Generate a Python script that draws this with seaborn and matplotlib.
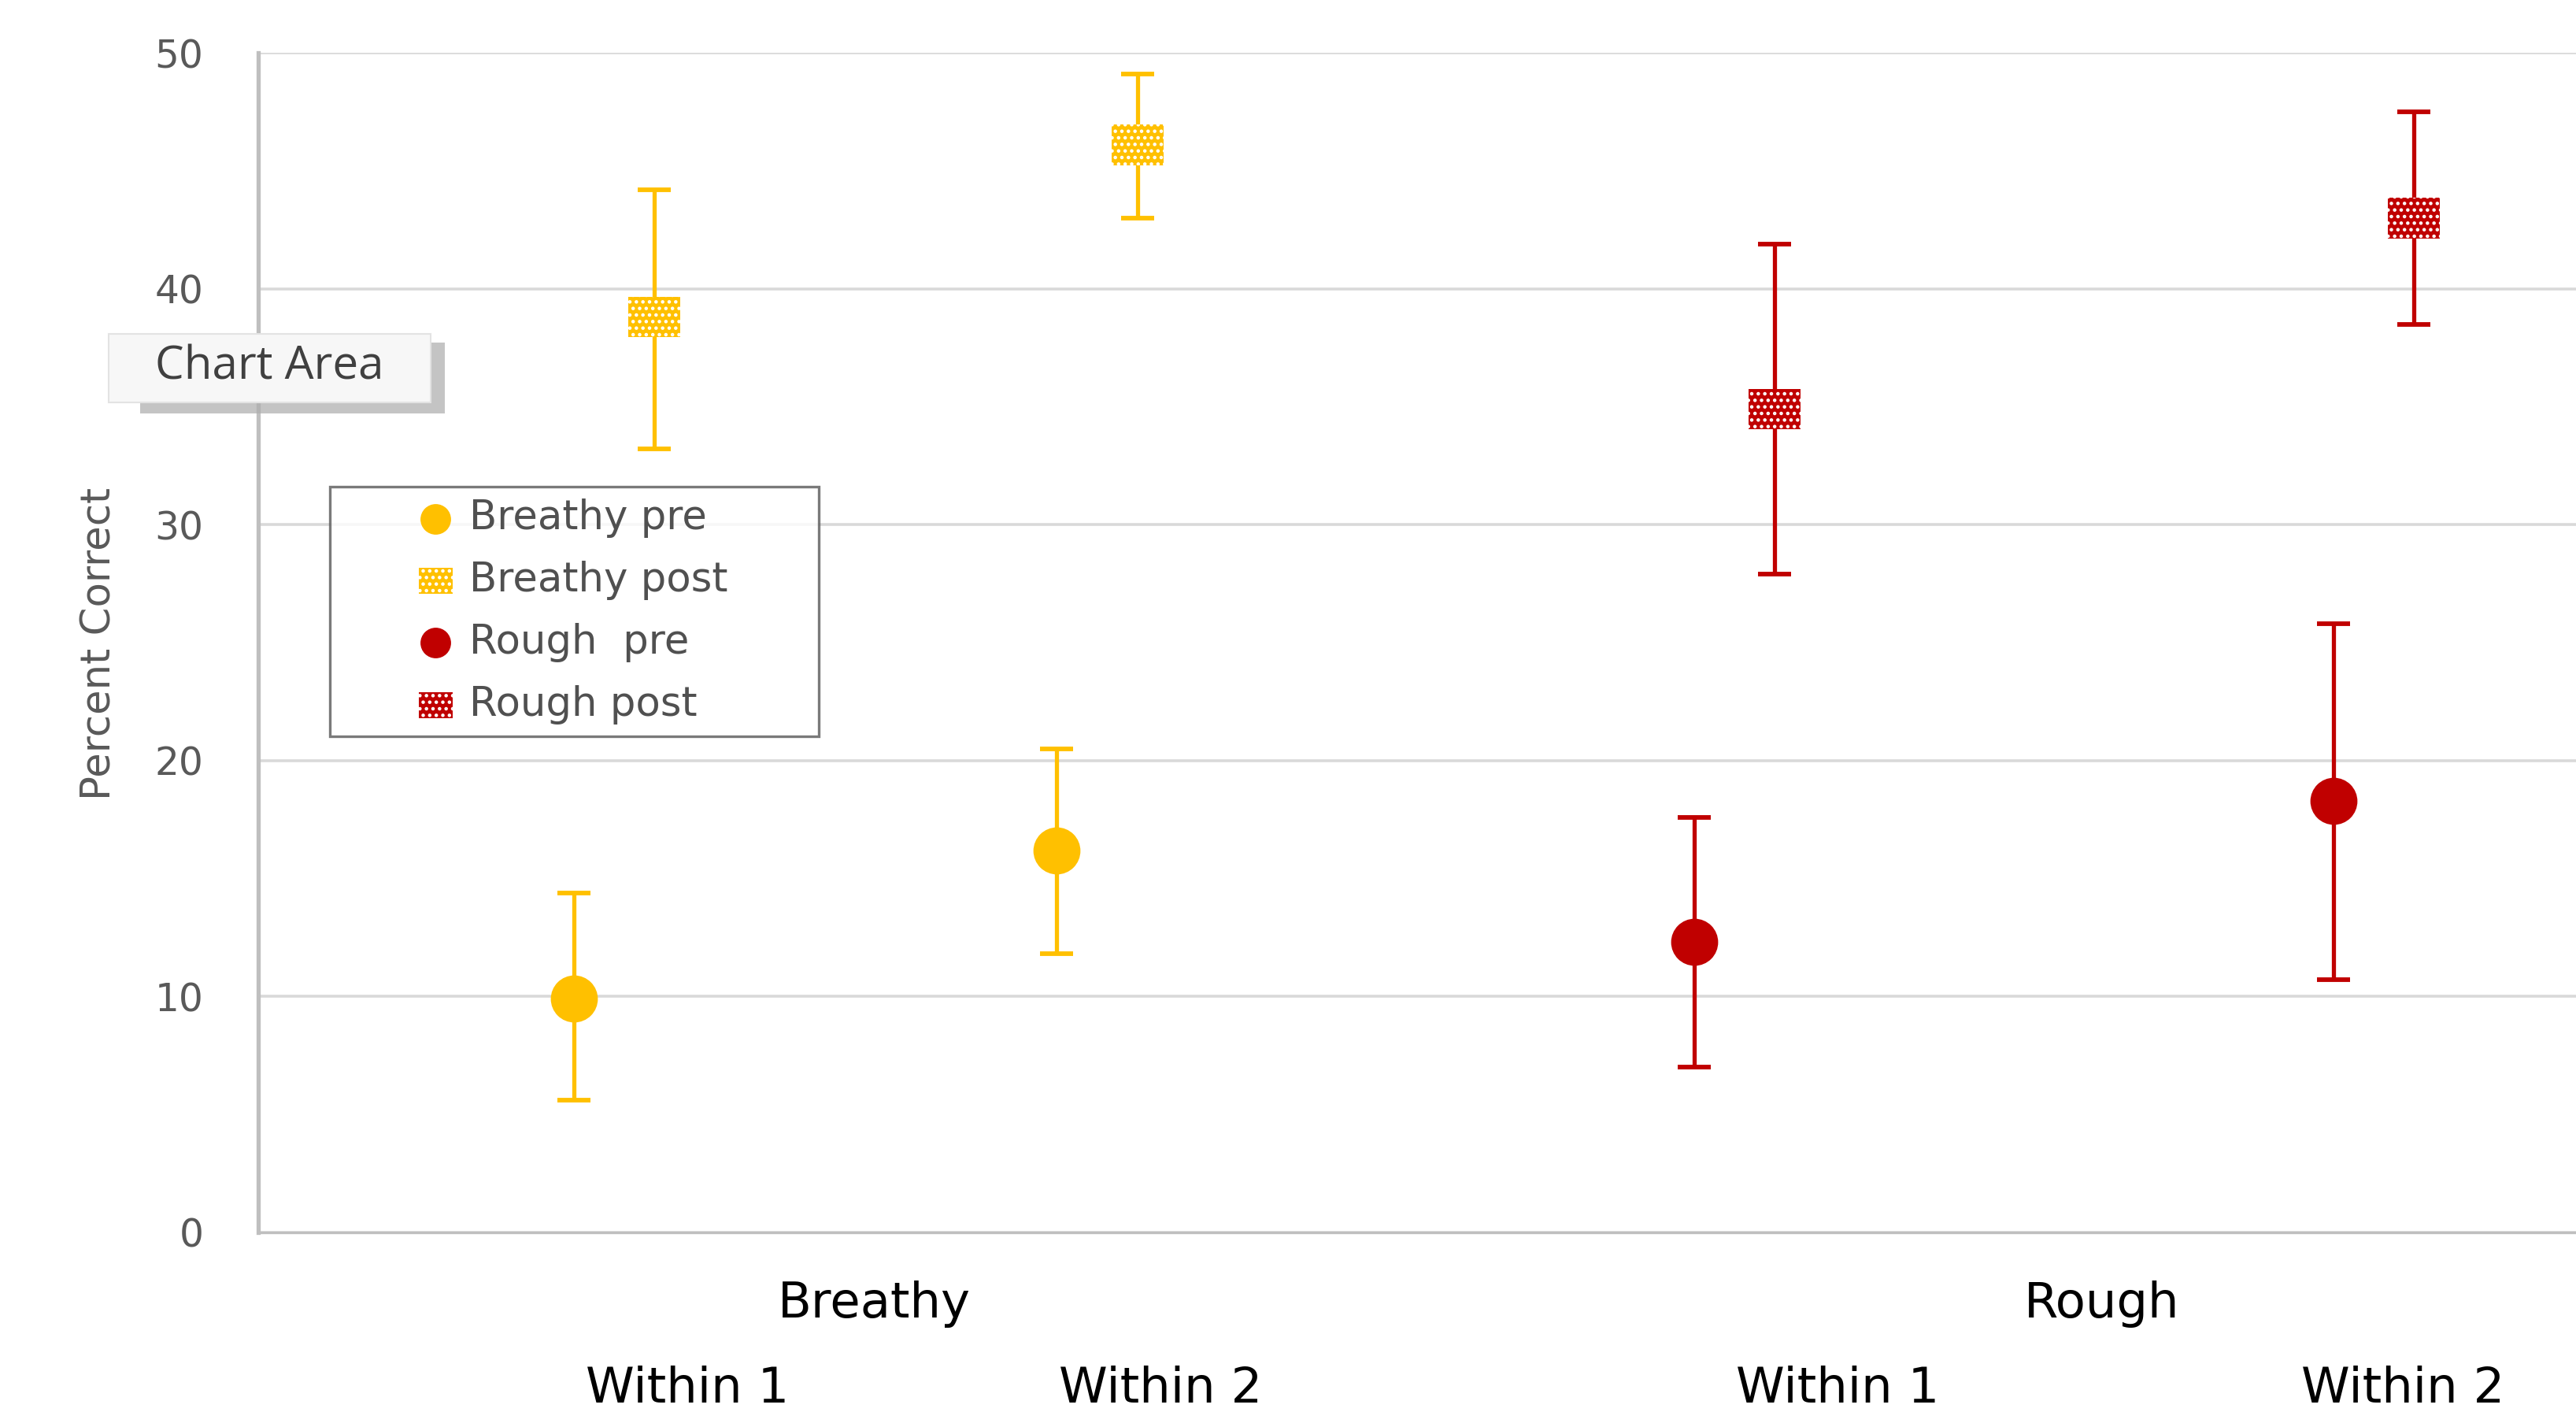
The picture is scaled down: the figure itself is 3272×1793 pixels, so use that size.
import matplotlib
matplotlib.use('agg')
import matplotlib.pyplot as plt
import matplotlib.transforms as mtransforms
from matplotlib.patches import Rectangle
from matplotlib.legend_handler import HandlerPathCollection
import seaborn as sns
import pandas as pd

sns.set_style('white')
plt.rcParams['font.family'] = ['DejaVu Sans']
plt.rcParams['hatch.linewidth'] = 2.0

# conditions along x (value-axis units)
groups = ['Breathy', 'Rough']
conditions = ['Within 1', 'Within 2', 'Within 1', 'Within 2']
cond_x = [1.92, 4.86, 8.74, 12.63]
post_shift = 0.49
label_x = [2.61, 5.49, 9.61, 13.05]
group_x = [3.75, 11.22]

# percent correct, with lower / upper error bar ends
breathy_pre = [9.9, 16.2]
breathy_pre_lo = [5.6, 11.8]
breathy_pre_hi = [14.4, 20.5]
breathy_post = [38.8, 46.1]
breathy_post_lo = [33.2, 43.0]
breathy_post_hi = [44.2, 49.1]
rough_pre = [12.3, 18.3]
rough_pre_lo = [7.0, 10.7]
rough_pre_hi = [17.6, 25.8]
rough_post = [34.9, 43.0]
rough_post_lo = [27.9, 38.5]
rough_post_hi = [41.9, 47.5]

yellow = '#FFC000'
red = '#C00000'
rect = [(-0.5, -0.39), (0.5, -0.39), (0.5, 0.39), (-0.5, 0.39)]

series = [
    # name, x, y, lo, hi, color, marker, size, hatch
    ('Breathy pre', cond_x[:2], breathy_pre, breathy_pre_lo, breathy_pre_hi, yellow, 'o', 1850, None),
    ('Breathy post', [v + post_shift for v in cond_x[:2]], breathy_post, breathy_post_lo, breathy_post_hi, yellow, rect, 2260, '..'),
    ('Rough  pre', cond_x[2:], rough_pre, rough_pre_lo, rough_pre_hi, red, 'o', 1850, None),
    ('Rough post', [v + post_shift for v in cond_x[2:]], rough_post, rough_post_lo, rough_post_hi, red, rect, 2260, '..'),
]

fig = plt.figure(figsize=(32.73, 17.93), dpi=100)
ax = fig.add_axes([0.1002, 0.1272, 0.8998, 0.8354])

for name, xs, ys, lo, hi, col, mk, sz, ht in series:
    df = pd.DataFrame({'x': xs, 'y': ys, 'lo': lo, 'hi': hi})
    ax.errorbar(df['x'], df['y'], yerr=[df['y'] - df['lo'], df['hi'] - df['y']],
                fmt='none', ecolor=col, elinewidth=3.8, capsize=15, capthick=4.2, zorder=3)
    kw = dict(hatch=ht, edgecolor='white', linewidth=0) if ht else dict(edgecolor=col, linewidth=0)
    sns.scatterplot(data=df, x='x', y='y', ax=ax, color=col, marker=mk, s=sz,
                    label=name, zorder=4, legend=False, **kw)

ax.set_xlim(0, 14.11)
ax.set_ylim(0, 50)
ax.set_yticks([0, 10, 20, 30, 40, 50])
ax.grid(axis='y', color='#D9D9D9', linewidth=2.6)
ax.grid(axis='x', visible=False)
ax.set_axisbelow(True)
for s in ['top', 'right']:
    ax.spines[s].set_visible(False)
ax.spines['left'].set_color('#BFBFBF')
ax.spines['left'].set_linewidth(3.8)
ax.spines['bottom'].set_color('#BFBFBF')
ax.spines['bottom'].set_linewidth(2.4)

ax.tick_params(axis='y', length=0, pad=50, labelsize=35, labelcolor='#595959')
ax.set_xticks(label_x)
ax.set_xticklabels(conditions)
ax.tick_params(axis='x', length=0, pad=122, labelsize=45, labelcolor='#000000')
trans = mtransforms.blended_transform_factory(ax.transData, ax.transAxes)
for g, gx in zip(groups, group_x):
    ax.text(gx, -0.0721, g, transform=trans, ha='center', va='baseline', fontsize=45, color='#000000')

ax.set_xlabel('')
ax.set_ylabel('Percent Correct', fontsize=37, color='#595959')
ax.yaxis.set_label_coords(-0.060, 0.499)

handles, labels = ax.get_legend_handles_labels()
leg = fig.legend(handles, labels, loc='upper left',
                 bbox_to_anchor=(419 / 3273, 1 - 934 / 1793, 621 / 3273, 316 / 1793),
                 mode='expand', fontsize=37, frameon=True, fancybox=False, markerscale=0.65,
                 handletextpad=0.3, labelspacing=0.56, borderpad=0.3, borderaxespad=0,
                 labelcolor='#505050', handlelength=2.84,
                 handler_map={h: HandlerPathCollection(xpad=1.79) for h in handles})
leg.get_frame().set_edgecolor('#595959')
leg.get_frame().set_linewidth(2.4)
leg.set_zorder(10)

# the "Chart Area" tooltip of the screenshot
fig.patches.append(Rectangle((178 / 3273, 1 - 525 / 1793), 387 / 3273, 90 / 1793,
                             transform=fig.transFigure, facecolor='#B0B0B0', edgecolor='none',
                             alpha=0.75, zorder=11))
fig.patches.append(Rectangle((138 / 3273, 1 - 511 / 1793), 409 / 3273, 87 / 1793,
                             transform=fig.transFigure, facecolor='#F7F7F7', edgecolor='#E3E3E3',
                             linewidth=1.5, zorder=12))
fig.text(342 / 3273, 1 - 466 / 1793, 'Chart Area', ha='center', va='center', fontsize=42,
         color='#404040', zorder=13, family=['Open Sans', 'DejaVu Sans'])

fig.savefig('out.png', dpi=100)
